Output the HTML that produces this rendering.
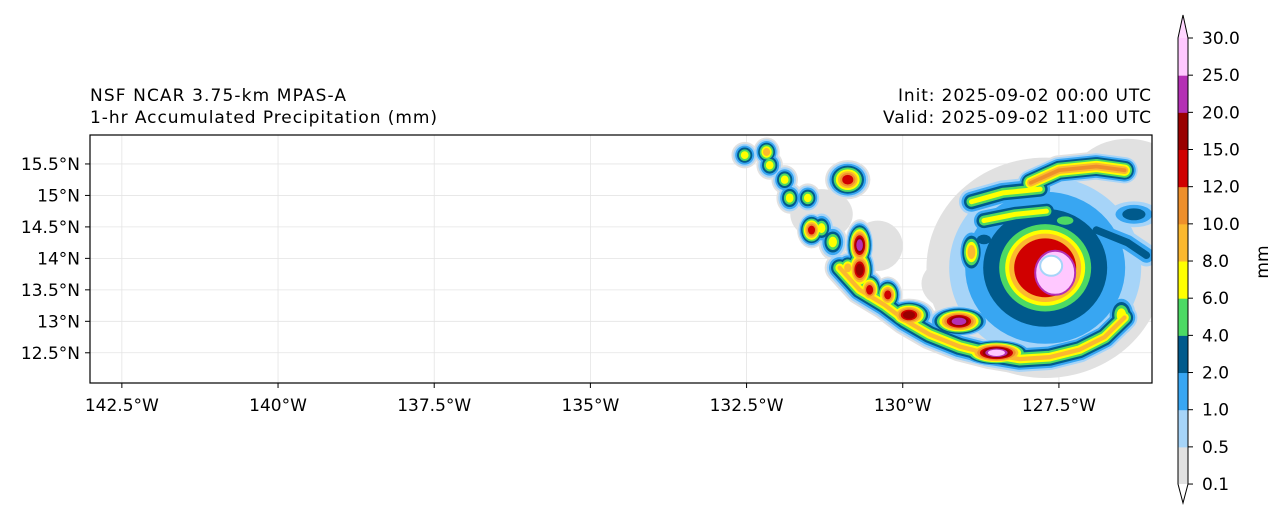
<!DOCTYPE html>
<html><head><meta charset="utf-8"><style>
body{margin:0;background:#fff;width:1286px;height:520px;overflow:hidden}
svg text{font-family:"DejaVu Sans","Liberation Sans",sans-serif;font-size:17px;fill:#000}
</style></head><body>
<svg id="fig" width="1286" height="520" viewBox="0 0 1286 520" xmlns="http://www.w3.org/2000/svg">
<text x="90" y="101" textLength="256">NSF NCAR 3.75-km MPAS-A</text>
<text x="90" y="123" textLength="347">1-hr Accumulated Precipitation (mm)</text>
<text x="898" y="101" textLength="253">Init: 2025-09-02 00:00 UTC</text>
<text x="883" y="123" textLength="268">Valid: 2025-09-02 11:00 UTC</text>
<defs><clipPath id="mapclip"><rect x="90" y="135" width="1062" height="248"/></clipPath></defs>
<g id="grid"></g>
<g id="rain" clip-path="url(#mapclip)"></g>
<rect x="90" y="135" width="1062" height="248" fill="none" stroke="#000" stroke-width="1.2"/>
<g id="axes"></g>
<g id="cbar"></g>
<text x="0" y="0" transform="translate(1268,262) rotate(-90)" text-anchor="middle">mm</text>
</svg>
<script>
const lonTicks=[-142.5,-140,-137.5,-135,-132.5,-130,-127.5];
const lonLabels=["142.5°W","140°W","137.5°W","135°W","132.5°W","130°W","127.5°W"];
const latTicks=[15.5,15,14.5,14,13.5,13,12.5];
const latLabels=["15.5°N","15°N","14.5°N","14°N","13.5°N","13°N","12.5°N"];
const cbarTicks=["0.1","0.5","1.0","2.0","4.0","6.0","8.0","10.0","12.0","15.0","20.0","25.0","30.0"];
const cbarColors=["#e1e1e1","#a6d4f8","#38a6f2","#005a8c","#4cd964","#ffff00","#fbb82f","#ee8f2b","#d00000","#990000","#b430b4","#ffc8ff"];
const overColor="#ffd6ff";
// blobs: lon, lat, rx(deg), ry(deg), max level
const blobLon=[-127.72,-128.9,-126.4,-126.2,-131.3,-130.4,-132.53,-132.18,-132.13,-131.89,-131.81,-131.52,-131.46,-131.30,-131.12,-130.88,-130.69,-130.69,-130.88,-130.53,-130.24,-129.1,-129.9,-128.5,-126.5,-128.9,-127.4,-126.3,-128.7];
const blobLat=[13.85,13.6,15.2,14.9,14.7,14.2,15.64,15.69,15.48,15.25,14.96,14.96,14.45,14.48,14.26,15.25,14.21,13.82,13.85,13.50,13.42,13.0,13.1,12.5,13.1,14.1,14.6,14.7,14.3];
const blobRx=[1.9,0.8,0.9,0.6,0.5,0.4,0.1,0.1,0.1,0.1,0.1,0.1,0.12,0.1,0.12,0.25,0.12,0.15,0.1,0.12,0.12,0.4,0.3,0.5,0.15,0.12,0.3,0.4,0.2];
const blobRy=[1.75,0.5,0.7,0.8,0.4,0.4,0.1,0.12,0.12,0.12,0.14,0.12,0.18,0.16,0.18,0.2,0.3,0.3,0.15,0.2,0.18,0.15,0.15,0.12,0.25,0.3,0.1,0.15,0.1];
const blobLvl=[0,0,1,0,0,0,5,6,5,5,5,5,8,5,5,8,10,9,6,8,8,10,9,11,5,6,4,3,3];
// spiral arm and bands: point lists, max level
const bandLon=[[-131.01,-130.69,-130.29,-129.97,-129.57,-129.09,-128.61,-128.13,-127.65,-127.17,-126.77,-126.45],[-127.95,-127.5,-126.9,-126.45],[-128.9,-128.4,-127.8],[-128.7,-128.2,-127.7],[-126.9,-126.4,-126.1]];
const bandLat=[[13.85,13.5,13.26,13.02,12.79,12.6,12.48,12.4,12.43,12.55,12.75,13.06],[15.2,15.4,15.46,15.4],[14.9,15.04,15.1],[14.6,14.7,14.75],[14.45,14.25,14.05]];
const bandLvl=[6,7,5,5,3];
// hurricane ring levels (drawn concentric at storm center)
const ringLvl=[1,2,3,4,5,6,8];
const W0=-143.01,E0=-126.01,N0=15.96,S0=12.02,X0=90,X1=1152,Y0=135,Y1=383;
const xs=lon=>X0+(lon-W0)/(E0-W0)*(X1-X0);
const ys=lat=>Y0+(N0-lat)/(N0-S0)*(Y1-Y0);
const NS="http://www.w3.org/2000/svg";
function mk(tag,attrs,parent){const e=document.createElementNS(NS,tag);for(const k in attrs)e.setAttribute(k,attrs[k]);parent.appendChild(e);return e;}
const grid=document.getElementById('grid'),axes=document.getElementById('axes'),rain=document.getElementById('rain'),cbar=document.getElementById('cbar');
lonTicks.forEach((t,i)=>{const x=xs(t);
 const g=mk('line',{x1:x,x2:x,y1:Y0,y2:Y1,stroke:'#e4e4e4','stroke-width':0.8},grid);
 
 
 const tk=mk('line',{x1:x,x2:x,y1:Y1,y2:Y1+5,stroke:'#000'},axes);
 
 
 const tx=mk('text',{x:x,y:Y1+28,'text-anchor':'middle'},axes);tx.textContent=lonLabels[i];
 
 });
latTicks.forEach((t,i)=>{const y=ys(t);
 const g=mk('line',{x1:X0,x2:X1,y1:y,y2:y,stroke:'#e4e4e4','stroke-width':0.8},grid);
 
 
 const tk=mk('line',{x1:X0-5,x2:X0,y1:y,y2:y,stroke:'#000'},axes);
 
 
 const tx=mk('text',{x:X0-10,y:y+6,'text-anchor':'end'},axes);tx.textContent=latLabels[i];
 
 });
const pxLon=(X1-X0)/(E0-W0),pxLat=(Y1-Y0)/(N0-S0);
const hcx=xs(blobLon[0]),hcy=ys(blobLat[0]);
for(let L=0;L<cbarColors.length;L++){
 if(L===0){
  blobLon.forEach((lo,i)=>{if(i>5)return;
   const e=mk('ellipse',{cx:xs(lo),cy:ys(blobLat[i]),rx:blobRx[i]*pxLon,ry:blobRy[i]*pxLat,fill:cbarColors[0]},rain);
   
   });
 }
 if(L>=1&&L<=3){const rr=[0,96,80,62][L];
  const e=mk('ellipse',{cx:hcx,cy:hcy,rx:rr,ry:rr*0.95,fill:cbarColors[L]},rain);
  
  }
 bandLon.forEach((b,i)=>{if(bandLvl[i]<L)return;
  const w=Math.max(2,30*(1-L/(bandLvl[i]+1)));
  const d=b.map((lo,j)=>(j?'L':'M')+xs(lo)+','+ys(bandLat[i][j])).join('');
  const p=mk('path',{d:d,fill:'none',stroke:cbarColors[L],'stroke-width':w,'stroke-linecap':'round','stroke-linejoin':'round'},rain);
  
  });
 blobLon.forEach((lo,i)=>{if(i<=5||blobLvl[i]<L)return;
  const f=1-L/(blobLvl[i]+1)*0.85;
  const e=mk('ellipse',{cx:xs(lo),cy:ys(blobLat[i]),rx:Math.max(2,(blobRx[i]*pxLon+7)*f),ry:Math.max(2,(blobRy[i]*pxLat+7)*f),fill:cbarColors[L]},rain);
  
  });
}
// hurricane eyewall and eye
const ringR={4:46,5:40,6:36,8:31};
ringLvl.forEach(l=>{if(!ringR[l])return;const r=ringR[l];
 const e=mk('ellipse',{cx:hcx,cy:hcy,rx:r,ry:r*0.95,fill:cbarColors[l]},rain);
 
 });
const pk=mk('ellipse',{cx:hcx+10,cy:hcy+5,rx:20,ry:22,fill:cbarColors[11],stroke:cbarColors[10],'stroke-width':2},rain);


const eye=mk('ellipse',{cx:hcx+6,cy:hcy-2,rx:11,ry:10,fill:'#fff',stroke:'#a6d4f8','stroke-width':2},rain);


// colorbar
const CX=1178,CW=10,Ctop=38,Cstep=37.17;
const n=cbarColors.length;
const cy=i=>Ctop+(n-i)*Cstep;
cbarColors.forEach((c,i)=>{const r=mk('rect',{x:CX,y:cy(i+1),width:CW,height:Cstep+0.5,fill:c},cbar);
 
 });
const up=mk('polygon',{points:`${CX},${Ctop} ${CX+CW/2},15 ${CX+CW},${Ctop}`,fill:overColor},cbar);


const dn=mk('polygon',{points:`${CX},${cy(0)} ${CX+CW/2},503 ${CX+CW},${cy(0)}`,fill:'#fff'},cbar);


const ol=mk('polygon',{points:`${CX},${Ctop} ${CX+CW/2},15 ${CX+CW},${Ctop} ${CX+CW},${cy(0)} ${CX+CW/2},503 ${CX},${cy(0)}`,fill:'none',stroke:'#000','stroke-width':1},cbar);


cbarTicks.forEach((t,i)=>{const y=cy(i);
 const tk=mk('line',{x1:CX+CW,x2:CX+CW+5,y1:y,y2:y,stroke:'#000'},cbar);
 
 
 const tx=mk('text',{x:CX+CW+14,y:y+6},cbar);tx.textContent=t;
 
 });
</script>
</body></html>
